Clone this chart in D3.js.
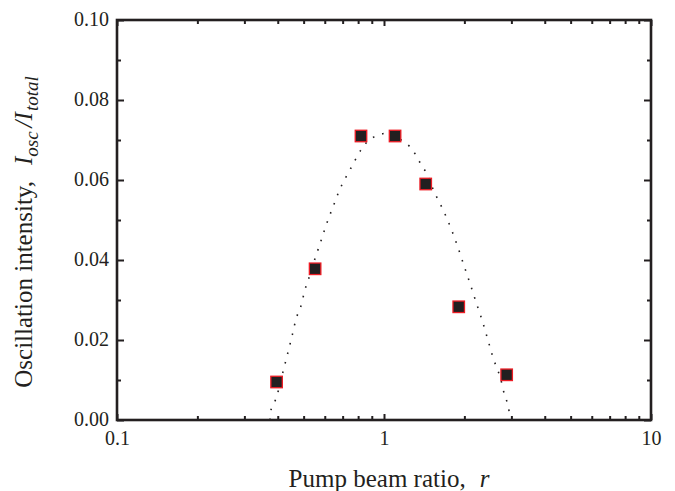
<!DOCTYPE html>
<html>
<head>
<meta charset="utf-8">
<script src="https://cdn.jsdelivr.net/npm/d3@7"></script>
<style>
  html, body { margin: 0; padding: 0; background: #fff; }
  svg { display: block; }
</style>
</head>
<body>
<svg id="chart" width="675" height="491"></svg>
<script>
// Measured data points: pump beam ratio r vs oscillation intensity
const ratio = [0.396, 0.552, 0.820, 1.10, 1.433, 1.905, 2.88];
const intensity = [0.0095, 0.0378, 0.0710, 0.0710, 0.0590, 0.0283, 0.0113];

// Dotted fit curve
const fitR = [0.374, 0.378, 0.391, 0.402, 0.418, 0.436, 0.454, 0.471, 0.486, 0.507, 0.521, 0.548, 0.579, 0.610, 0.646, 0.690, 0.752, 0.825, 0.884, 0.958, 1.035, 1.223, 1.306, 1.368, 1.440, 1.543, 1.668, 1.782, 1.888, 1.994, 2.105, 2.217, 2.334, 2.446, 2.567, 2.720, 2.833, 2.913, 2.965];
const fitI = [0.0000, 0.0027, 0.0048, 0.0073, 0.0119, 0.0167, 0.0214, 0.0258, 0.0280, 0.0328, 0.0351, 0.0398, 0.0445, 0.0491, 0.0535, 0.0583, 0.0630, 0.0678, 0.0701, 0.0713, 0.0716, 0.0689, 0.0666, 0.0642, 0.0618, 0.0570, 0.0524, 0.0479, 0.0433, 0.0386, 0.0339, 0.0293, 0.0248, 0.0202, 0.0154, 0.0108, 0.0061, 0.0038, 0.0000];

const xMajor = [0.1, 1, 10];
const xMajorLabels = ["0.1", "1", "10"];
const xMinor = [0.2,0.3,0.4,0.5,0.6,0.7,0.8,0.9,2,3,4,5,6,7,8,9];
const yMajor = [0.00, 0.02, 0.04, 0.06, 0.08, 0.10];
const yMinor = [0.01, 0.03, 0.05, 0.07, 0.09];

const FONT = "'Liberation Serif', 'Times New Roman', Tinos, serif";
const L = 117, R = 651, T = 20, B = 420;
const ink = "#231f20";
const svg = d3.select("#chart");

const x = d3.scaleLog().domain([0.1, 10]).range([L, R]);
const y = d3.scaleLinear().domain([0, 0.10]).range([B, T]);

// Fit curve
const fit = fitR.map((r, i) => [r, fitI[i]]);
svg.append("path")
  .datum(fit)
  .attr("fill", "none")
  .attr("stroke", ink)
  .attr("stroke-width", 1.6)
  .attr("stroke-dasharray", "1.6 8.2")
  .attr("d", d3.line().x(d => x(d[0])).y(d => y(d[1])).curve(d3.curveCatmullRom));

// Axes with inward ticks on all four sides
function axisGroup(axis, tx, ty) {
  const g = svg.append("g").attr("transform", `translate(${tx},${ty})`).call(axis);
  g.select(".domain").remove();
  g.selectAll("line").attr("stroke", ink).attr("stroke-width", 2);
  g.selectAll("text").style("font-family", FONT).attr("font-size", 20).attr("fill", ink);
  return g;
}
const fmtX = (d) => xMajorLabels[xMajor.indexOf(d)];

const gb = axisGroup(d3.axisBottom(x).tickValues(xMajor).tickSize(-6).tickPadding(25).tickFormat(fmtX), 0, B);
gb.selectAll("text").attr("dy", "0");
axisGroup(d3.axisBottom(x).tickValues(xMinor).tickSize(-4).tickFormat(""), 0, B);
axisGroup(d3.axisTop(x).tickValues(xMajor).tickSize(-6).tickFormat(""), 0, T);
axisGroup(d3.axisTop(x).tickValues(xMinor).tickSize(-4).tickFormat(""), 0, T);

const gl = axisGroup(d3.axisLeft(y).tickValues(yMajor).tickSize(-7).tickPadding(8).tickFormat(d3.format(".2f")), L, 0);
gl.selectAll("text").attr("dy", "0.28em");
axisGroup(d3.axisLeft(y).tickValues(yMinor).tickSize(-4).tickFormat(""), L, 0);
axisGroup(d3.axisRight(y).tickValues(yMajor).tickSize(-7).tickFormat(""), R, 0);
axisGroup(d3.axisRight(y).tickValues(yMinor).tickSize(-4).tickFormat(""), R, 0);

// Frame
svg.append("rect")
  .attr("x", L).attr("y", T).attr("width", R - L).attr("height", B - T)
  .attr("fill", "none").attr("stroke", ink).attr("stroke-width", 2.6);

// Points
const pts = ratio.map((r, i) => [r, intensity[i]]);
const s = 11.5;
svg.append("g").selectAll("rect").data(pts).join("rect")
  .attr("x", d => x(d[0]) - s / 2)
  .attr("y", d => y(d[1]) - s / 2)
  .attr("width", s).attr("height", s)
  .attr("fill", ink)
  .attr("stroke", "#ed1c24")
  .attr("stroke-width", 1.3);

// X title
const xt = svg.append("text")
  .attr("x", 389).attr("y", 487)
  .attr("text-anchor", "middle").attr("font-size", 25)
  .style("font-family", FONT).attr("fill", ink);
xt.append("tspan").text("Pump beam ratio,");
xt.append("tspan").attr("dx", 14).attr("font-style", "italic").text("r");

// Y title
const yt = svg.append("text")
  .attr("transform", "translate(32,232) rotate(-90)")
  .attr("text-anchor", "middle").attr("font-size", 25)
  .style("font-family", FONT).attr("fill", ink);
yt.append("tspan").text("Oscillation intensity,");
yt.append("tspan").attr("dx", 16).attr("font-style", "italic").text("I");
yt.append("tspan").attr("font-style", "italic").attr("font-size", 19).attr("dy", 6).text("osc");
yt.append("tspan").attr("font-style", "italic").attr("dy", -6).attr("dx", 4).text("/I");
yt.append("tspan").attr("font-style", "italic").attr("font-size", 19).attr("dy", 6).attr("dx", 1).text("total");
</script>
</body>
</html>
